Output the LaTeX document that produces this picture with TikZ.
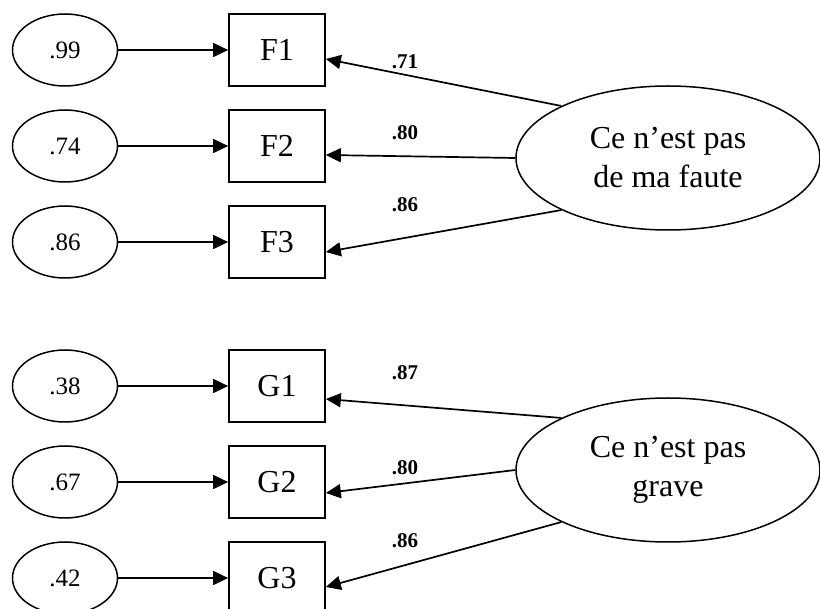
\documentclass[tikz,border=0pt]{standalone}
\usepackage{fontspec}
\setmainfont{Liberation Serif}
\usetikzlibrary{shapes.geometric,arrows.meta}
\begin{document}
\begin{tikzpicture}[x=1pt,y=-1pt,
 err/.style={draw,ellipse,line width=1.5pt,minimum width=105pt,minimum height=72pt,inner sep=0pt,font=\fontsize{25}{30}\selectfont},
 obs/.style={draw,rectangle,line width=1.7pt,minimum width=96pt,minimum height=72pt,inner sep=0pt,font=\fontsize{32}{38}\selectfont},
 lat/.style={draw,ellipse,line width=1.5pt,minimum width=304pt,minimum height=144pt,inner sep=0pt,align=center,font=\fontsize{32}{39}\selectfont},
 arr/.style={line width=1.7pt,-{Triangle[length=15pt,width=14pt]}},
 coef/.style={font=\bfseries\fontsize{21}{25}\selectfont}]
\useasboundingbox (0,0) rectangle (820,609);

% top group
\node[err] (e1) at (65,50) {.99};
\node[err] (e2) at (65,146) {.74};
\node[err] (e3) at (65,242) {.86};
\node[obs] (F1) at (277,50) {F1};
\node[obs] (F2) at (277,146) {F2};
\node[obs] (F3) at (277,242) {F3};
\node[lat] (L1) at (668,158) {Ce n’est pas\\de ma faute};

\draw[arr] (e1) -- (F1);
\draw[arr] (e2) -- (F2);
\draw[arr] (e3) -- (F3);
\draw[arr] (L1.154) -- ([yshift=-9pt]F1.east);
\draw[arr] (L1.west) -- ([yshift=-9pt]F2.east);
\draw[arr] (L1.206) -- ([yshift=-10pt]F3.east);
\node[coef] (c1) at (405,62) {.71};
\node[coef] (c2) at (405,133) {.80};
\node[coef] (c3) at (405,205) {.86};

% bottom group
\node[err] (e4) at (65,386) {.38};
\node[err] (e5) at (65,482) {.67};
\node[err] (e6) at (65,578) {.42};
\node[obs] (G1) at (277,386) {G1};
\node[obs] (G2) at (277,482) {G2};
\node[obs] (G3) at (277,578) {G3};
\node[lat] (L2) at (668,470) {Ce n’est pas\\grave};

\draw[arr] (e4) -- (G1);
\draw[arr] (e5) -- (G2);
\draw[arr] (e6) -- (G3);
\draw[arr] (L2.154) -- ([yshift=-13pt]G1.east);
\draw[arr] (L2.west) -- ([yshift=-11pt]G2.east);
\draw[arr] (L2.206) -- ([yshift=-9pt]G3.east);
\node[coef] (c4) at (405,373) {.87};
\node[coef] (c5) at (405,468) {.80};
\node[coef] (c6) at (405,541) {.86};
\end{tikzpicture}
\end{document}
